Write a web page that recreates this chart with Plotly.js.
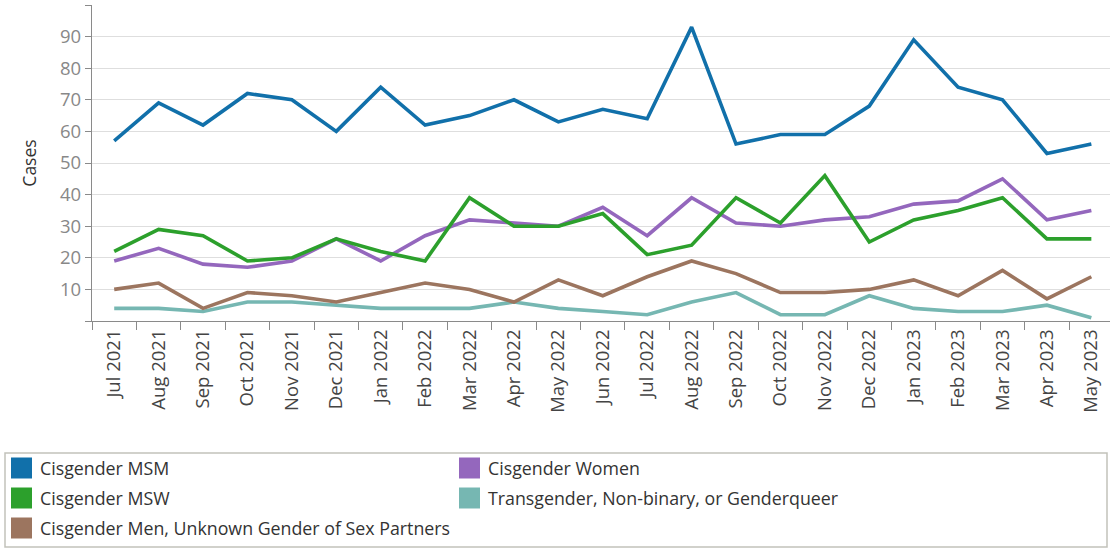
<!DOCTYPE html>
<html>
<head>
<meta charset="utf-8">
<script src="https://cdn.plot.ly/plotly-3.0.1.min.js"></script>
<style>
  html, body { margin: 0; padding: 0; background: #fff; }
  #chart { width: 1110px; height: 548px; }
</style>
</head>
<body>
<div id="chart"></div>
<script>
// ---- Data ----
const months = ['Jul 2021','Aug 2021','Sep 2021','Oct 2021','Nov 2021','Dec 2021',
  'Jan 2022','Feb 2022','Mar 2022','Apr 2022','May 2022','Jun 2022','Jul 2022',
  'Aug 2022','Sep 2022','Oct 2022','Nov 2022','Dec 2022','Jan 2023','Feb 2023',
  'Mar 2023','Apr 2023','May 2023'];

const cisMSM     = [57,69,62,72,70,60,74,62,65,70,63,67,64,93,56,59,59,68,89,74,70,53,56];
const cisMSW     = [22,29,27,19,20,26,22,19,39,30,30,34,21,24,39,31,46,25,32,35,39,26,26];
const cisWomen   = [19,23,18,17,19,26,19,27,32,31,30,36,27,39,31,30,32,33,37,38,45,32,35];
const transNBGQ  = [4,4,3,6,6,5,4,4,4,6,4,3,2,6,9,2,2,8,4,3,3,5,1];
const cisMenUnk  = [10,12,4,9,8,6,9,12,10,6,13,8,14,19,15,9,9,10,13,8,16,7,14];

const seriesNames = ['Cisgender MSM','Cisgender Women','Cisgender MSW',
  'Transgender, Non-binary, or Genderqueer','Cisgender Men, Unknown Gender of Sex Partners'];
const seriesValues = [cisMSM, cisWomen, cisMSW, transNBGQ, cisMenUnk];
const seriesColors = ['#1170aa','#9467bd','#2ca02c','#76b7b2','#9c755f'];

const yTickVals = [0,10,20,30,40,50,60,70,80,90,100];
const yTickText = ['','10','20','30','40','50','60','70','80','90',''];

// ---- Layout geometry ----
const W = 1110, H = 548;
const M = {l: 92, r: 0, t: 5, b: 227};
const plotW = W - M.l - M.r, plotH = H - M.t - M.b;
const px2x = px => (px - M.l) / plotW;
const py2y = py => (H - M.b - py) / plotH;

// draw order: teal, brown, purple, green, blue (blue on top)
const drawOrder = [3, 4, 1, 2, 0];
const FONT = '"Open Sans", "Noto Sans", sans-serif';

const traces = drawOrder.map(i => ({
  type: 'scatter',
  mode: 'lines',
  name: seriesNames[i],
  x: months,
  y: seriesValues[i],
  line: {color: seriesColors[i], width: 3.6},
  showlegend: false,
  hovertemplate: '%{x}<br>' + seriesNames[i] + ': %{y}<extra></extra>'
}));

// custom legend (two columns, row-major order)
const shapes = [];
const annotations = [];
shapes.push({
  type: 'rect', xref: 'paper', yref: 'paper',
  x0: px2x(5), x1: px2x(1107), y0: py2y(453), y1: py2y(547),
  line: {color: '#c2c2ba', width: 1.5}, fillcolor: 'rgba(0,0,0,0)', layer: 'above'
});
const colX = [11, 459];
const rowY = [468, 498, 528];
seriesNames.forEach((name, k) => {
  const col = k % 2, row = Math.floor(k / 2);
  const sx = colX[col], cy = rowY[row];
  shapes.push({
    type: 'rect', xref: 'paper', yref: 'paper',
    x0: px2x(sx), x1: px2x(sx + 21), y0: py2y(cy - 10.5), y1: py2y(cy + 10.5),
    line: {width: 0}, fillcolor: seriesColors[k], layer: 'above'
  });
  annotations.push({
    xref: 'paper', yref: 'paper', x: px2x(sx + 27), y: py2y(cy),
    xanchor: 'left', yanchor: 'middle', showarrow: false,
    text: name, font: {family: FONT, size: 17.8, color: '#333333'}
  });
});

const layout = {
  width: W, height: H,
  margin: M,
  paper_bgcolor: '#ffffff',
  plot_bgcolor: '#ffffff',
  font: {family: FONT},
  showlegend: false,
  xaxis: {
    type: 'category',
    range: [-0.5, 22.42],
    showgrid: false,
    showline: true, linecolor: '#8a8a8a', linewidth: 1.2,
    ticks: 'outside', tickson: 'boundaries', ticklen: 8, tickcolor: '#8a8a8a', tickwidth: 1,
    tickangle: -90,
    tickfont: {family: FONT, size: 18.5, color: '#444444'},
    zeroline: false,
    automargin: false
  },
  yaxis: {
    range: [0, 100],
    tickvals: yTickVals,
    ticktext: yTickText,
    showgrid: true, gridcolor: '#dedede', gridwidth: 1,
    zeroline: false,
    showline: true, linecolor: '#8a8a8a', linewidth: 1.2,
    ticks: 'outside', ticklen: 6, tickcolor: '#8a8a8a',
    tickfont: {family: FONT, size: 18.5, color: '#888888'},
    title: {text: 'Cases', font: {family: FONT, size: 17.5, color: '#333333'}, standoff: 18},
    automargin: false
  },
  shapes: shapes,
  annotations: annotations
};

Plotly.newPlot('chart', traces, layout, {displayModeBar: false, staticPlot: false});
</script>
</body>
</html>
